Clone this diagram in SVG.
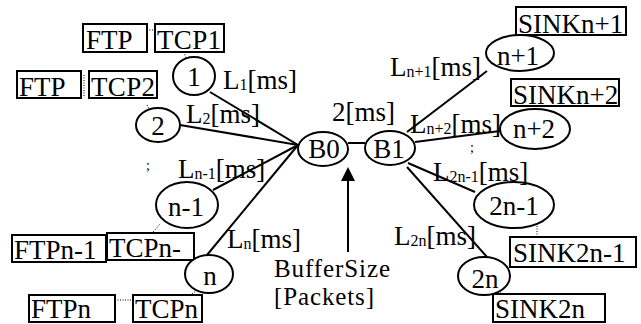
<svg xmlns="http://www.w3.org/2000/svg" width="641" height="324" viewBox="0 0 641 324">
<defs>
<style>
text{font-family:"Liberation Serif","Times New Roman",serif;font-size:27px;fill:#000}
.c{text-anchor:middle}
.s{font-size:16px}
.bs{font-size:25px}
.box{fill:#fff;stroke:#000;stroke-width:2}
.nd{fill:#fff;stroke:#000;stroke-width:2}
.ln{stroke:#000;stroke-width:2;fill:none}
.dot{stroke:#000;stroke-width:1;stroke-dasharray:1 1.5;fill:none}
</style>
</defs>
<rect width="641" height="324" fill="#fff"/>
<g id="connectors">
<line class="ln" x1="210" y1="92" x2="298" y2="145"/>
<line class="ln" x1="180" y1="125" x2="298" y2="145"/>
<line class="ln" x1="213" y1="190" x2="298" y2="145"/>
<line class="ln" x1="207" y1="255" x2="298" y2="145"/>
<line class="ln" x1="348" y1="143" x2="365" y2="143"/>
<line class="ln" x1="407" y1="132" x2="487" y2="71"/>
<line class="ln" x1="415" y1="142" x2="500" y2="131"/>
<line class="ln" x1="408" y1="163" x2="475" y2="192"/>
<line class="ln" x1="407" y1="167" x2="487" y2="257"/>
<line class="ln" x1="348" y1="252" x2="348" y2="180"/>
<path d="M348,167 L341,181 L355,181 z" fill="#000"/>
<line class="dot" x1="147" y1="30" x2="155" y2="30"/>
<line class="dot" x1="184" y1="52" x2="186" y2="58"/>
<line class="dot" x1="84" y1="75" x2="84" y2="97"/>
<line class="dot" x1="89" y1="93" x2="107" y2="93"/>
<line class="dot" x1="147" y1="105" x2="149" y2="109"/>
<line class="dot" x1="153" y1="232" x2="160" y2="224"/>
<line class="dot" x1="115" y1="300" x2="133" y2="300"/>
<line class="dot" x1="192" y1="294" x2="197" y2="290"/>
<line class="dot" x1="547" y1="30" x2="544" y2="36"/>
<line class="dot" x1="537" y1="106" x2="537" y2="109"/>
<line class="dot" x1="537" y1="226" x2="537" y2="237"/>
<line class="dot" x1="498" y1="291" x2="502" y2="294"/>
</g>
<g id="ftp1"><rect class="box" x="83" y="24" width="64" height="28"/><text x="86" y="49">FTP</text></g>
<g id="tcp1"><rect class="box" x="155" y="24" width="69" height="28"/><text x="157" y="49" textLength="64">TCP1</text></g>
<g id="ftp2"><rect class="box" x="17" y="71" width="64" height="27"/><text x="19" y="96">FTP</text></g>
<g id="tcp2"><rect class="box" x="89" y="71" width="68" height="27"/><text x="91" y="96" textLength="64">TCP2</text></g>
<g id="ftpn1"><rect class="box" x="12" y="235" width="94" height="27"/><text x="14" y="259">FTPn-1</text></g>
<g id="tcpn1"><rect class="box" x="107" y="233" width="87" height="27"/><text x="109" y="257">TCPn-</text></g>
<g id="ftpn"><rect class="box" x="29" y="295" width="86" height="27"/><text x="31" y="318">FTPn</text></g>
<g id="tcpn"><rect class="box" x="133" y="295" width="69" height="27"/><text x="135" y="318">TCPn</text></g>
<g id="sinkn1"><rect class="box" x="516" y="7" width="110" height="28"/><text x="518" y="33">SINKn+1</text></g>
<g id="sinkn2"><rect class="box" x="511" y="79" width="108" height="27"/><text x="513" y="104">SINKn+2</text></g>
<g id="sink2n1"><rect class="box" x="510" y="237" width="126" height="30"/><text x="513" y="262">SINK2n-1</text></g>
<g id="sink2n"><rect class="box" x="493" y="294" width="112" height="28"/><text x="495" y="318">SINK2n</text></g>
<g id="n1"><ellipse class="nd" cx="194" cy="76" rx="21" ry="19"/><text class="c" x="194" y="86">1</text></g>
<g id="n2"><ellipse class="nd" cx="158" cy="125" rx="22" ry="17"/><text class="c" x="158" y="135">2</text></g>
<g id="nn1"><ellipse class="nd" cx="187" cy="205" rx="31" ry="23"/><text class="c" x="186" y="216">n-1</text></g>
<g id="nn"><ellipse class="nd" cx="209" cy="274" rx="24" ry="19"/><text class="c" x="210" y="285">n</text></g>
<g id="b0"><ellipse class="nd" cx="323" cy="149" rx="25" ry="17"/><text class="c" x="324" y="158">B0</text></g>
<g id="b1"><ellipse class="nd" cx="390" cy="148" rx="25" ry="17"/><text class="c" x="389" y="158">B1</text></g>
<g id="np1"><ellipse class="nd" cx="520" cy="53" rx="34" ry="18"/><text class="c" x="518" y="65">n+1</text></g>
<g id="np2"><ellipse class="nd" cx="535" cy="129" rx="35" ry="20"/><text class="c" x="534" y="138">n+2</text></g>
<g id="n2n1"><ellipse class="nd" cx="514" cy="205" rx="40" ry="23"/><text class="c" x="514" y="215">2n-1</text></g>
<g id="n2n"><ellipse class="nd" cx="484" cy="276" rx="26" ry="19"/><text class="c" x="485" y="288">2n</text></g>
<g id="labels">
<text x="223" y="89">L<tspan class="s" dy="1">1</tspan><tspan dy="-1">[ms]</tspan></text>
<text x="186" y="123">L<tspan class="s" dy="1">2</tspan><tspan dy="-1">[ms]</tspan></text>
<text x="178" y="178">L<tspan class="s" dy="1">n-1</tspan><tspan dy="-1">[ms]</tspan></text>
<text x="227" y="248">L<tspan class="s" dy="1">n</tspan><tspan dy="-1">[ms]</tspan></text>
<text x="390" y="76">L<tspan class="s" dy="1">n+1</tspan><tspan dy="-1">[ms]</tspan></text>
<text x="410" y="133">L<tspan class="s" dy="1">n+2</tspan><tspan dy="-1">[ms]</tspan></text>
<text x="433" y="181">L<tspan class="s" dy="1">2n-1</tspan><tspan dy="-1">[ms]</tspan></text>
<text x="394" y="245">L<tspan class="s" dy="1">2n</tspan><tspan dy="-1">[ms]</tspan></text>
<text x="332" y="121">2[ms]</text>
<text class="bs" x="274" y="277" textLength="116">BufferSize</text>
<text class="bs" x="274" y="305" textLength="100">[Packets]</text>
<text x="146" y="170" style="font-size:14px">;</text>
<text x="470" y="152" style="font-size:14px">;</text>
</g>
</svg>
